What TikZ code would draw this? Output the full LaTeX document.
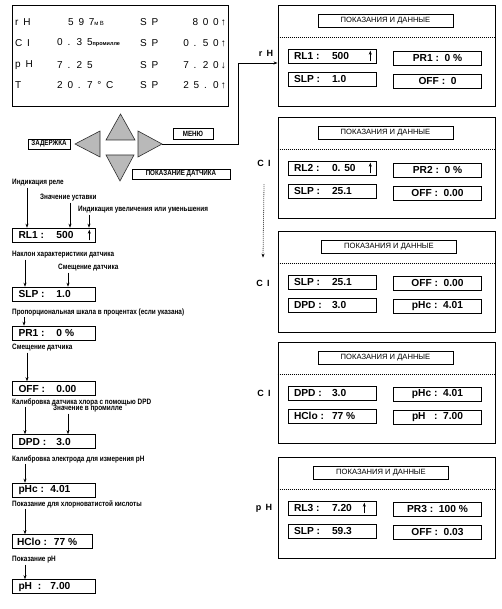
\documentclass[tikz,border=0pt]{standalone}
\usepackage{fontspec}
\setmainfont{Liberation Sans}
\newfontfamily\cndfont[FakeStretch=0.82]{Liberation Sans}
\newfontfamily\dispfont[LetterSpace=20]{Liberation Sans}
\usetikzlibrary{arrows.meta}
\newcommand{\lv}[2]{\makebox[38pt][l]{#1}#2}

\begin{document}
\begin{tikzpicture}[x=1pt, y=-1pt,
    frame/.style={draw, line width=0.9pt, inner sep=0},
    panel/.style={frame, minimum width=217, minimum height=101},
    ttl/.style={draw, line width=0.6pt, inner sep=0, minimum width=135, minimum height=13, font=\fontsize{7.6}{8}\selectfont},
    vbox/.style={draw, line width=0.6pt, inner sep=0, minimum height=14, font=\bfseries\fontsize{10.2}{11}\selectfont},
    lbox/.style={vbox, minimum width=83},
    rbox/.style={vbox, minimum width=88},
    keybox/.style={draw, line width=0.6pt, inner sep=0, font=\cndfont\bfseries\fontsize{7.6}{8}\selectfont},
    lbl/.style={anchor=west, inner sep=1pt, font=\cndfont\bfseries\fontsize{7.8}{8}\selectfont},
    dtxt/.style={anchor=west, inner sep=0, font=\dispfont\fontsize{10}{11}\selectfont},
    side/.style={inner sep=1pt, font=\dispfont\bfseries\fontsize{9}{10}\selectfont},
    key/.style={fill=gray!55, draw=gray!35!black, line width=0.6pt},
    arr/.style={-{Stealth[length=4pt,width=3pt]}, line width=0.6pt},
    dots/.style={line width=0.8pt, dash pattern=on 0.8pt off 1.2pt}
]
\useasboundingbox (0,0) rectangle (501,609);

% display
\node[frame, minimum width=216, minimum height=101] (disp) at (120,55.5) {};
\node[dtxt] (d1a) at (15,22) {r H};
\node[dtxt] (d1b) at (68,22) {5 9 7{\fontsize{6}{7}\selectfont мВ}};
\node[dtxt] (d1c) at (140,22) {S P};
\node[dtxt, anchor=east] (d1d) at (226,22) {8 0 0↑};
\node[dtxt] (d2a) at (15,43) {C I};
\node[dtxt] (d2b) at (57,43) {0 . 3 5{\addfontfeature{LetterSpace=0}\bfseries\fontsize{5.5}{6}\selectfont промилле}};
\node[dtxt] (d2c) at (140,43) {S P};
\node[dtxt, anchor=east] (d2d) at (226,43) {0 . 5 0↑};
\node[dtxt] (d3a) at (15,65) {p H};
\node[dtxt] (d3b) at (57,65) {7 . 2 5};
\node[dtxt] (d3c) at (140,65) {S P};
\node[dtxt, anchor=east] (d3d) at (226,65) {7 . 2 0↓};
\node[dtxt] (d4a) at (15,85) {T};
\node[dtxt] (d4b) at (57,85) {2 0 . 7 ° C};
\node[dtxt] (d4c) at (140,85) {S P};
\node[dtxt, anchor=east] (d4d) at (226,85) {2 5 . 0↑};

% keys
\filldraw[key] (106,140) -- (135,140) -- (120.5,114) -- cycle;
\filldraw[key] (75,144) -- (100,131) -- (100,157) -- cycle;
\filldraw[key] (138,131) -- (138,157) -- (162,144) -- cycle;
\filldraw[key] (106,155) -- (134,155) -- (120,181) -- cycle;
\coordinate (rtip) at (162,144);
\node[keybox, minimum width=42, minimum height=10] (zad) at (49,144) {ЗАДЕРЖКА};
\node[keybox, minimum width=40, minimum height=11] (menu) at (193,133.5) {МЕНЮ};
\node[keybox, minimum width=98, minimum height=10] (pokd) at (181,174) {ПОКАЗАНИЕ ДАТЧИКА};

% left column
\node[lbl] (l1) at (11,183) {Индикация реле};
\node[lbl] (l2) at (39,198) {Значение уставки};
\node[lbl] (l3) at (77,210) {Индикация увеличения или уменьшения};
\node[lbox] (rl1) at (53.5,235) {\makebox[70pt][l]{\lv{RL1 :}{500}}};
\draw[arr] ([xshift=-6pt,yshift=2pt]rl1.south east) -- ([xshift=-6pt,yshift=-2pt]rl1.north east);
\draw[arr] (l1.south -| 27,0) -- (27,0 |- rl1.north);
\draw[arr] (l2.south -| 70,0) -- (70,0 |- rl1.north);
\draw[arr] (l3.south -| 89,0) -- (89,0 |- rl1.north);

\node[lbl] (l4) at (11,255) {Наклон характеристики датчика};
\node[lbl] (l5) at (57,268) {Смещение датчика};
\node[lbox] (slp) at (53.5,294) {\makebox[70pt][l]{\lv{SLP :}{1.0}}};
\draw[arr] (l4.south -| 25,0) -- (25,0 |- slp.north);
\draw[arr] (l5.south -| 68,0) -- (68,0 |- slp.north);

\node[lbl] (l6) at (11,312) {Пропорциональная шкала в процентах (если указана)};
\node[lbox] (pr1) at (53.5,333) {\makebox[70pt][l]{\lv{PR1 :}{0 \%}}};
\draw[arr] (l6.south -| 24,0) -- (24,0 |- pr1.north);

\node[lbl] (l7) at (11,348) {Смещение датчика};
\node[lbox] (off) at (53.5,388.5) {\makebox[70pt][l]{\lv{OFF :}{0.00}}};
\draw[arr] (l7.south -| 27,0) -- (27,0 |- off.north);

\node[lbl] (l8) at (11,402) {Калибровка датчика хлора с помощью DPD};
\node[lbl] (l9) at (52,409) {Значение в промилле};
\node[lbox] (dpd) at (53.5,441.5) {\makebox[70pt][l]{\lv{DPD :}{3.0}}};
\draw[arr] (l8.south -| 25,0) -- (25,0 |- dpd.north);
\draw[arr] (l9.south -| 68,0) -- (68,0 |- dpd.north);

\node[lbl] (l10) at (11,459) {Калибровка электрода для измерения pH};
\node[lbox] (phc) at (53.5,490) {\makebox[70pt][l]{\makebox[32pt][l]{pHc :}4.01}};
\draw[arr] (l10.south -| 25,0) -- (25,0 |- phc.north);

\node[lbl] (l11) at (11,504) {Показание для хлорноватистой кислоты};
\node[lbox, minimum width=80] (hclo) at (52,541.5) {\makebox[70pt][l]{\makebox[37pt][l]{HClo :}77 \%}};
\draw[arr] (l11.south -| 25,0) -- (25,0 |- hclo.north);

\node[lbl] (l12) at (11,560) {Показание pH};
\node[lbox] (ph) at (53.5,586.5) {\makebox[70pt][l]{\makebox[32pt][l]{pH\ \ :}7.00}};
\draw[arr] (l12.south -| 25,0) -- (25,0 |- ph.north);

% panels
\node[panel] (p1) at (386.5,55.5) {};
\node[ttl] (t1) at (385.5,20.5) {ПОКАЗАНИЯ И ДАННЫЕ};
\draw[dots] (p1.west |- 0,37) -- (p1.east |- 0,37);
\node[rbox] (b11) at (332,56) {\makebox[76pt][l]{\lv{RL1 :}{500}}};
\draw[arr] ([xshift=-6pt,yshift=2pt]b11.south east) -- ([xshift=-6pt,yshift=-2pt]b11.north east);
\node[rbox] (b12) at (437.5,58) {PR1 :\ \ 0 \%};
\node[rbox] (b13) at (332,79) {\makebox[76pt][l]{\lv{SLP :}{1.0}}};
\node[rbox] (b14) at (437.5,81) {OFF :\ \ 0};
\node[side] (rh) at (266,53) {r H};

\node[panel] (p2) at (386.5,167.5) {};
\node[ttl] (t2) at (385.5,132.5) {ПОКАЗАНИЯ И ДАННЫЕ};
\draw[dots] (p2.west |- 0,149) -- (p2.east |- 0,149);
\node[rbox] (b21) at (332,168) {\makebox[76pt][l]{\lv{RL2 :}{0. 50}}};
\draw[arr] ([xshift=-6pt,yshift=2pt]b21.south east) -- ([xshift=-6pt,yshift=-2pt]b21.north east);
\node[rbox] (b22) at (437.5,170) {PR2 :\ \ 0 \%};
\node[rbox] (b23) at (332,191) {\makebox[76pt][l]{\lv{SLP :}{25.1}}};
\node[rbox] (b24) at (437.5,193) {OFF :\ \ 0.00};
\node[side] (cl2) at (264,163) {C I};

\node[panel] (p3) at (386.5,281.5) {};
\node[ttl] (t3) at (389,246.5) {ПОКАЗАНИЯ И ДАННЫЕ};
\draw[dots] (p3.west |- 0,263) -- (p3.east |- 0,263);
\node[rbox] (b31) at (332,282) {\makebox[76pt][l]{\lv{SLP :}{25.1}}};
\node[rbox] (b32) at (437.5,283) {OFF :\ \ 0.00};
\node[rbox] (b33) at (332,305) {\makebox[76pt][l]{\lv{DPD :}{3.0}}};
\node[rbox] (b34) at (437.5,306) {pHc :\ \ 4.01};
\node[side] (cl3) at (263,283) {C I};

\node[panel] (p4) at (386.5,392.5) {};
\node[ttl] (t4) at (385.5,357.5) {ПОКАЗАНИЯ И ДАННЫЕ};
\draw[dots] (p4.west |- 0,374) -- (p4.east |- 0,374);
\node[rbox] (b41) at (332,393) {\makebox[76pt][l]{\lv{DPD :}{3.0}}};
\node[rbox] (b42) at (437.5,394) {pHc :\ \ 4.01};
\node[rbox] (b43) at (332,416) {\makebox[76pt][l]{\lv{HClo :}{77 \%}}};
\node[rbox] (b44) at (437.5,417) {pH\ \ \ :\ \ 7.00};
\node[side] (cl4) at (264,393) {C I};

\node[panel] (p5) at (386.5,507.5) {};
\node[ttl] (t5) at (381,472.5) {ПОКАЗАНИЯ И ДАННЫЕ};
\draw[dots] (p5.west |- 0,489) -- (p5.east |- 0,489);
\node[rbox] (b51) at (332,508) {\makebox[76pt][l]{\lv{RL3 :}{7.20}}};
\draw[arr] ([xshift=-12pt,yshift=2pt]b51.south east) -- ([xshift=-12pt,yshift=-2pt]b51.north east);
\node[rbox] (b52) at (437.5,509) {PR3 :\ \ 100 \%};
\node[rbox] (b53) at (332,531) {\makebox[76pt][l]{\lv{SLP :}{59.3}}};
\node[rbox] (b54) at (437.5,532) {OFF :\ \ 0.03};
\node[side] (ph5) at (264,508) {p H};

% connectors
\draw[arr] (rtip) -| (238,63) -- (p1.west |- 0,63);
\draw[arr, dots] ([yshift=-17pt]cl2.south) -- ([yshift=21pt]cl3.north);
\end{tikzpicture}
\end{document}
